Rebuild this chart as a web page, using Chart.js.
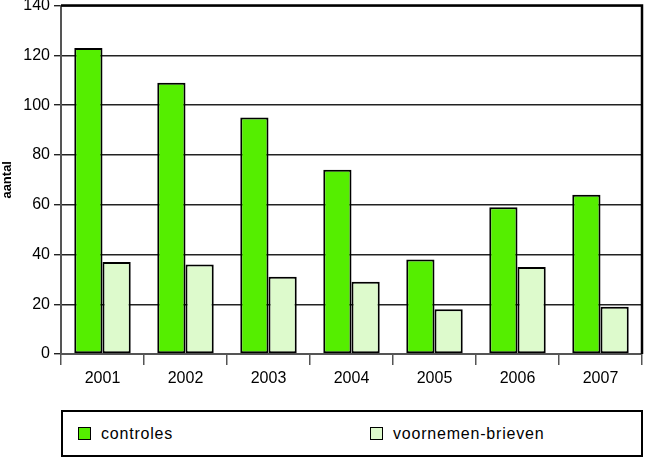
<!DOCTYPE html>
<html>
<head>
<meta charset="utf-8">
<script src="https://cdn.jsdelivr.net/npm/chart.js@4/dist/chart.umd.min.js"></script>
<style>
  body { margin: 0; background: #fff; font-family: "Liberation Sans", Arial, sans-serif; }
  #wrap { position: relative; width: 646px; height: 459px; overflow: hidden; }
  #box { position: absolute; left: 0; top: -8px; width: 646px; height: 408px; }
  #legend { position: absolute; left: 61px; top: 410px; width: 578px; height: 43px; border: 2px solid #000; }
  .item { position: absolute; top: 13px; font-size: 16px; letter-spacing: 0.8px; line-height: 17px; color: #000; }
  .sw { display: inline-block; width: 11px; height: 11px; border: 1.5px solid #000; vertical-align: -1px; margin-right: 10px; }
</style>
</head>
<body>
<div id="wrap">
  <div id="box"><canvas id="bar-chart"></canvas></div>
  <div id="legend">
    <div class="item" style="left:15px"><span class="sw" style="background:#55ee00"></span>controles</div>
    <div class="item" style="left:307px"><span class="sw" style="background:#ddfacc"></span>voornemen-brieven</div>
  </div>
</div>
<script>
  const jaren = ['2001', '2002', '2003', '2004', '2005', '2006', '2007'];
  const controles = [123, 109, 95, 74, 38, 59, 64];
  const voornemenBrieven = [37, 36, 31, 29, 18, 35, 19];

  // rand rond het plotgebied (boven en rechts)
  const randPlugin = {
    id: 'rand',
    afterDraw(chart) {
      const { ctx, chartArea } = chart;
      ctx.save();
      ctx.strokeStyle = '#000';
      ctx.lineWidth = 2.5;
      ctx.beginPath();
      ctx.moveTo(chartArea.left, chartArea.top);
      ctx.lineTo(chartArea.right, chartArea.top);
      ctx.lineTo(chartArea.right, chartArea.bottom);
      ctx.stroke();
      ctx.restore();
    }
  };

  const tekst = { family: 'Liberation Sans', size: 16 };

  const ctx = document.getElementById('bar-chart').getContext('2d');
  new Chart(ctx, {
    type: 'bar',
    data: {
      labels: jaren,
      datasets: [
        {
          label: 'controles',
          data: controles,
          backgroundColor: '#55ee00',
          borderColor: '#000',
          borderWidth: 2,
          borderSkipped: false,
        },
        {
          label: 'voornemen-brieven',
          data: voornemenBrieven,
          backgroundColor: '#ddfacc',
          borderColor: '#000',
          borderWidth: 2,
          borderSkipped: false,
        },
      ],
    },
    options: {
      responsive: true,
      maintainAspectRatio: false,
      animation: false,
      layout: { padding: { top: 0, right: 4, left: 0, bottom: 0 } },
      datasets: { bar: { categoryPercentage: 0.68, barPercentage: 1.0 } },
      plugins: { legend: { display: false }, tooltip: { enabled: false } },
      scales: {
        x: {
          grid: { display: true, drawOnChartArea: false, offset: true, color: '#555', lineWidth: 1.5, tickLength: 11 },
          border: { color: '#555', width: 2 },
          ticks: { color: '#000', font: tekst, padding: 4 },
          afterFit(scale) { scale.height = 46; },
        },
        y: {
          min: 0,
          max: 140,
          ticks: { stepSize: 20, color: '#000', font: tekst, padding: 4 },
          grid: { color: '#222', lineWidth: 1.4, tickLength: 7 },
          border: { color: '#555', width: 2 },
          title: { display: true, text: 'aantal', color: '#000', font: { family: 'Liberation Sans', size: 13, weight: 'bold' }, padding: 0 },
          afterFit(scale) { scale.width = 61; },
        },
      },
    },
    plugins: [randPlugin],
  });
</script>
</body>
</html>
